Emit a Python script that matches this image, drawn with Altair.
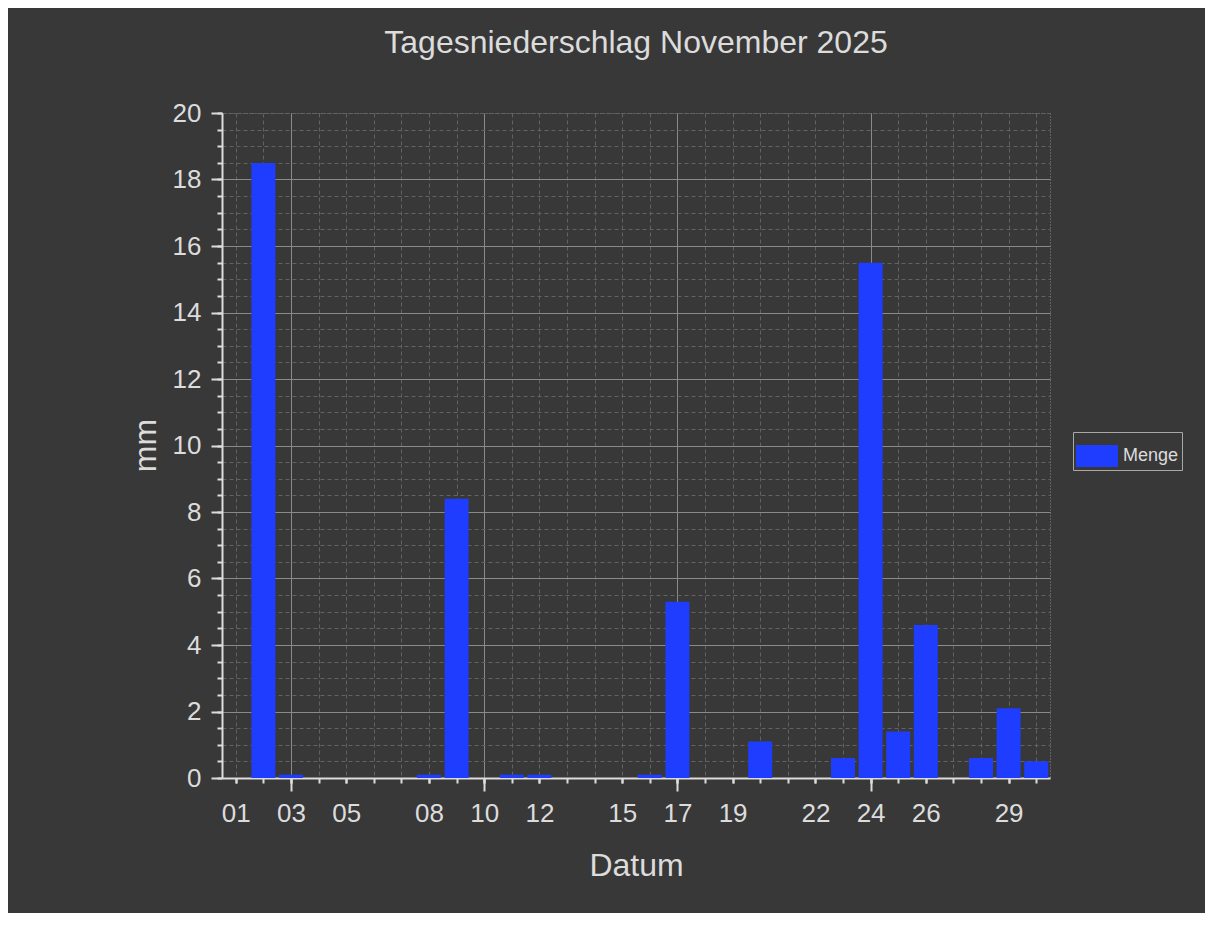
import altair as alt
import pandas as pd

# --- data ---
days = list(range(1, 31))
menge = [0, 18.5, 0.1, 0, 0, 0, 0, 0.1, 8.4, 0,
         0.1, 0.1, 0, 0, 0, 0.1, 5.3, 0, 0, 1.1,
         0, 0, 0.6, 15.5, 1.4, 4.6, 0, 0.6, 2.1, 0.5]
label_days = [1, 3, 5, 8, 10, 12, 15, 17, 19, 22, 24, 26, 29]
monday_days = [3, 10, 17, 24]
y_major = [0, 2, 4, 6, 8, 10, 12, 14, 16, 18, 20]
y_minor = [i * 0.5 for i in range(41)]

df = pd.DataFrame({
    "Datum": [f"2025-11-{d:02d}T00:00:00" for d in days],
    "mm": menge,
    "Serie": ["Menge"] * len(days),
})

def dt(d):
    return alt.DateTime(year=2025, month=11, date=d)

BG = "#383838"
FG = "#dcdcdc"
FONT = "Liberation Sans"
BLUE = "#1f3dff"

xscale = alt.Scale(domain=[alt.DateTime(year=2025, month=10, date=31, hours=12),
                           alt.DateTime(year=2025, month=11, date=30, hours=12)],
                   padding=0)
yscale = alt.Scale(domain=[0, 20], nice=False, zero=True, padding=0)

base = alt.Chart(df)

minor = base.mark_bar(opacity=0, size=24).encode(
    x=alt.X("Datum:T", scale=xscale,
            axis=alt.Axis(orient="bottom", values=[dt(d) for d in days], labels=False,
                          tickSize=5, tickWidth=2, tickColor=FG, domain=False,
                          grid=True, gridColor="#626262", gridDash=[4, 3], gridWidth=1,
                          title=None)),
    y=alt.Y("mm:Q", scale=yscale,
            axis=alt.Axis(orient="left", values=y_minor, labels=False,
                          tickSize=5, tickWidth=2, tickColor=FG, domain=False,
                          grid=True, gridColor="#626262", gridDash=[4, 3], gridWidth=1,
                          title=None)),
)

major = base.mark_bar(opacity=0, size=24).encode(
    x=alt.X("Datum:T", scale=xscale,
            axis=alt.Axis(orient="bottom", values=[dt(d) for d in monday_days], labels=False,
                          tickSize=13, tickWidth=2, tickColor=FG, domain=False,
                          grid=True, gridColor="#8a8a8a", gridWidth=1,
                          title=None)),
    y=alt.Y("mm:Q", scale=yscale,
            axis=alt.Axis(orient="left", values=y_major, format="d",
                          tickSize=11, tickWidth=2, tickColor=FG,
                          domain=True, domainColor=FG, domainWidth=2,
                          grid=True, gridColor="#8a8a8a", gridWidth=1,
                          gridOpacity={"condition": {"test": "datum.value == 20", "value": 0}, "value": 1},
                          labelFont=FONT, labelFontSize=26, labelColor=FG, labelPadding=10,
                          title="mm", titleFont=FONT, titleFontSize=32, titleFontWeight="normal",
                          titleColor=FG, titleX=-67, titleY=332, titleAngle=270,
                          titleAlign="center", titleBaseline="alphabetic")),
)

bars = base.mark_bar(size=24).encode(
    x=alt.X("Datum:T", scale=xscale,
            axis=alt.Axis(orient="bottom", values=[dt(d) for d in label_days], format="%d",
                          tickSize=5, tickWidth=2, tickColor=FG,
                          domain=True, domainColor=FG, domainWidth=2, grid=False,
                          labelFont=FONT, labelFontSize=26, labelColor=FG, labelPadding=17,
                          labelAlign="center", labelFlush=False, labelOverlap=False,
                          title="Datum", titleFont=FONT, titleFontSize=32, titleFontWeight="normal",
                          titleColor=FG, titleY=97, titleBaseline="alphabetic")),
    y=alt.Y("mm:Q", scale=yscale, axis=None),
    color=alt.Color("Serie:N", scale=alt.Scale(domain=["Menge"], range=[BLUE]),
                    legend=alt.Legend(title=None, orient="none", legendX=851, legendY=319,
                                      strokeColor="#a8a8a8", fillColor=BG, padding=3,
                                      symbolType="M-1,-0.52L1,-0.52L1,0.52L-1,0.52Z",
                                      symbolSize=1764, symbolStrokeWidth=0, symbolOpacity=1,
                                      labelFont=FONT, labelFontSize=18, labelColor=FG,
                                      labelOffset=5)),
)

chart = alt.layer(minor, major, bars).resolve_axis(
    x="independent", y="independent"
).properties(
    width=828,
    height=665,
    padding={"left": 214, "top": 105, "right": 155, "bottom": 135},
    autosize=alt.AutoSizeParams(type="none"),
    background=BG,
    title=alt.TitleParams("Tagesniederschlag November 2025", font=FONT, fontSize=32,
                          fontWeight="normal", color=FG, anchor="middle", offset=40),
).configure_view(stroke="#8a8a8a", strokeDash=[1, 2], strokeWidth=1)

chart.save("out.html", embed_options={"renderer": "svg", "actions": False})
